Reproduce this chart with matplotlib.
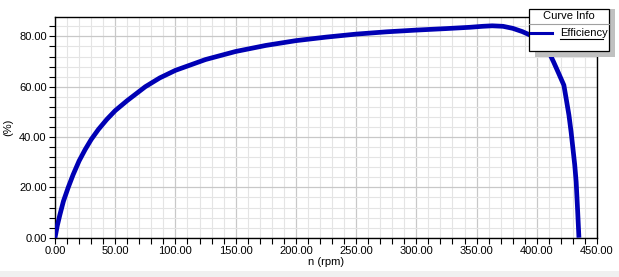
import matplotlib
matplotlib.use("Agg")
import matplotlib.pyplot as plt
import matplotlib.ticker as ticker
from matplotlib.patches import Rectangle
from matplotlib.lines import Line2D

# efficiency curve
speed_rpm = [0, 2, 4, 7, 11, 15, 20, 25, 30, 36, 43, 50, 60, 75, 87, 100,
             125, 150, 175, 200, 225, 250, 275, 300, 325, 344, 355, 363, 372,
             380, 388, 395, 400, 405, 410, 414, 418, 422.5, 424.5, 426.7, 428.5,
             430, 431.5, 432.7, 434, 435]
efficiency = [0, 5, 9, 14.5, 20, 25, 30.5, 35, 39, 43, 47, 50.5, 54.5, 60,
              63.5, 66.5, 70.8, 74, 76.4, 78.3, 79.7, 80.9, 81.8, 82.5, 83.1,
              83.6, 84.0, 84.2, 84.0, 83.2, 81.9, 80.4, 79.0, 76.8, 73.8, 69.8,
              65.5, 60.6, 55, 48.7, 42, 35.5, 29, 22.2, 10, 0]

x_ticks = [0, 50, 100, 150, 200, 250, 300, 350, 400, 450]
y_ticks = [0, 20, 40, 60, 80]

LINE_COLOR = "#0000b4"
FONT = 8
plt.rcParams["font.family"] = ["Liberation Sans", "DejaVu Sans"]

fig = plt.figure(figsize=(6.19, 2.77), dpi=100)
fig.patch.set_facecolor("white")
# light strip at the very bottom
fig.add_artist(Rectangle((0, 0), 1, 6 / 277, transform=fig.transFigure,
                         facecolor="#f0f0f0", edgecolor="none"))

ax = fig.add_axes([55 / 619, 39.3 / 277, 542 / 619, 220.7 / 277])
ax.plot(speed_rpm, efficiency, color=LINE_COLOR, lw=3.4, solid_capstyle="butt",
        solid_joinstyle="round", zorder=3)

ax.set_xlim(0, 450)
ax.set_ylim(0, 87.7)
ax.set_xticks(x_ticks)
ax.set_yticks(y_ticks)
ax.xaxis.set_major_formatter(ticker.FormatStrFormatter("%.2f"))
ax.yaxis.set_major_formatter(ticker.FormatStrFormatter("%.2f"))
ax.xaxis.set_minor_locator(ticker.MultipleLocator(10))
ax.yaxis.set_minor_locator(ticker.MultipleLocator(4))

ax.grid(which="major", color="#c8c8c8", lw=0.9, zorder=1)
ax.grid(which="minor", color="#e4e4e4", lw=0.8, zorder=0)
ax.set_axisbelow(True)

ax.tick_params(which="both", direction="out", length=4, width=0.8,
               labelsize=FONT, pad=2, colors="black")
for s in ax.spines.values():
    s.set_color("black")
    s.set_linewidth(1.0)

ax.set_xlabel("n (rpm)", fontsize=FONT, labelpad=1)
ax.set_ylabel("(%)", fontsize=FONT, labelpad=4)

# legend box drawn by hand, with a grey drop shadow
def fx(px):
    return px / 619

def fy(py):
    return 1 - py / 277

fig.add_artist(Rectangle((fx(535), fy(57)), fx(80), 48 / 277,
                         transform=fig.transFigure, facecolor="#c0c0c0",
                         edgecolor="none", zorder=5))
fig.add_artist(Rectangle((fx(529), fy(51)), fx(80), 42 / 277,
                         transform=fig.transFigure, facecolor="white",
                         edgecolor="black", lw=0.9, zorder=6))
fig.add_artist(Line2D([fx(529), fx(609)], [fy(24), fy(24)],
                      transform=fig.transFigure, color="#a0a0a0", lw=0.8,
                      zorder=7))
fig.text(fx(569), fy(16), "Curve Info", fontsize=FONT, ha="center",
         va="center", zorder=7)
fig.add_artist(Line2D([fx(531), fx(552)], [fy(33), fy(33)],
                      transform=fig.transFigure, color=LINE_COLOR, lw=2.2,
                      zorder=7))
fig.text(fx(560), fy(33), "Efficiency", fontsize=FONT, ha="left",
         va="center", zorder=7)
fig.add_artist(Line2D([fx(560), fx(603)], [fy(38.5), fy(38.5)],
                      transform=fig.transFigure, color="black", lw=0.8,
                      zorder=7))

fig.savefig("out.png", dpi=100)
